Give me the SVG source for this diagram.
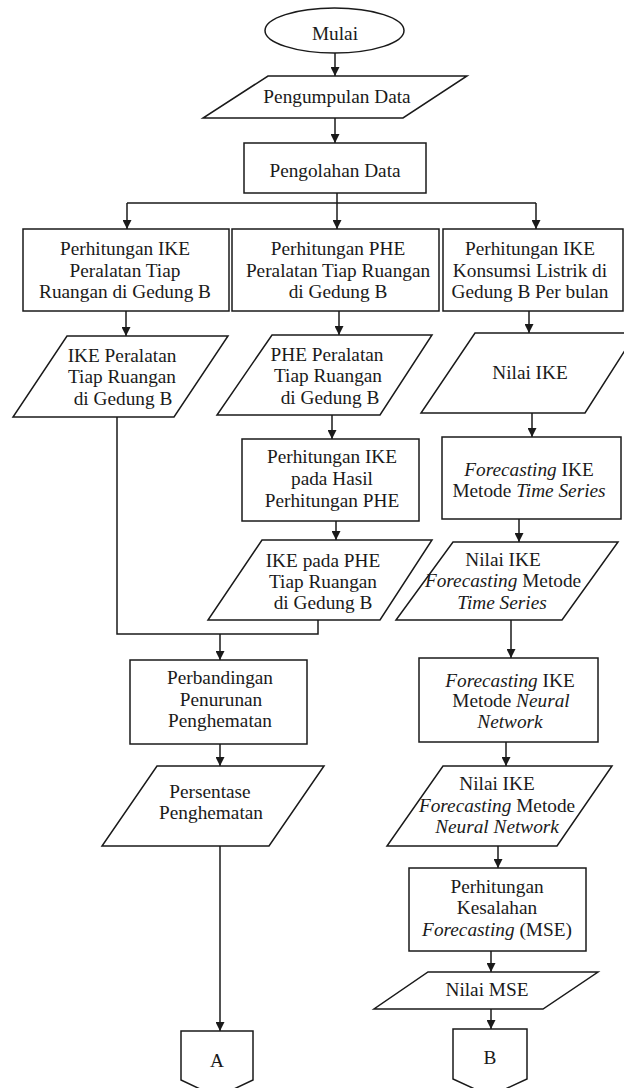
<svg xmlns="http://www.w3.org/2000/svg" width="624" height="1088" viewBox="0 0 624 1088">
<style>
.s{fill:#fff;stroke:#1a1a1a;stroke-width:1.5}
.t{font-family:"Liberation Serif","Times New Roman",serif;font-size:19.3px;fill:#1a1a1a;text-anchor:middle}
.i{font-style:italic}
.c{fill:none;stroke:#1a1a1a;stroke-width:1.5}
</style>
<defs>
<marker id="ah" viewBox="0 0 10 10" refX="10" refY="5" markerWidth="10" markerHeight="9" markerUnits="userSpaceOnUse" orient="auto">
<path d="M0,0 L10,5 L0,10 z" fill="#1a1a1a"/>
</marker>
</defs>
<rect width="624" height="1088" fill="#fff"/>
<g id="connectors">
<path class="c" d="M335,53 V76" marker-end="url(#ah)"/>
<path class="c" d="M335,118 V143" marker-end="url(#ah)"/>
<path class="c" d="M337,193 V203 M127,203 H536"/>
<path class="c" d="M127,203 V229" marker-end="url(#ah)"/>
<path class="c" d="M337,203 V229" marker-end="url(#ah)"/>
<path class="c" d="M536,203 V229" marker-end="url(#ah)"/>
<path class="c" d="M126,311 V336" marker-end="url(#ah)"/>
<path class="c" d="M339,311 V335" marker-end="url(#ah)"/>
<path class="c" d="M529,311 V333" marker-end="url(#ah)"/>
<path class="c" d="M332,415 V439" marker-end="url(#ah)"/>
<path class="c" d="M532,413 V437" marker-end="url(#ah)"/>
<path class="c" d="M336,521 V540" marker-end="url(#ah)"/>
<path class="c" d="M519,519 V542" marker-end="url(#ah)"/>
<path class="c" d="M117,417 V634 H318 V620"/>
<path class="c" d="M220,634 V660" marker-end="url(#ah)"/>
<path class="c" d="M511,620 V658" marker-end="url(#ah)"/>
<path class="c" d="M220,744 V766" marker-end="url(#ah)"/>
<path class="c" d="M506,742 V766" marker-end="url(#ah)"/>
<path class="c" d="M220,846 V1031" marker-end="url(#ah)"/>
<path class="c" d="M498,846 V868" marker-end="url(#ah)"/>
<path class="c" d="M491,951 V972" marker-end="url(#ah)"/>
<path class="c" d="M491,1009 V1029" marker-end="url(#ah)"/>
</g>
<g id="mulai">
<ellipse class="s" cx="334.5" cy="30.5" rx="69.5" ry="22.5"/>
<text class="t" x="335" y="40">Mulai</text>
</g>
<g id="pengumpulan">
<polygon class="s" points="268,76 467,76 403,118 203,118"/>
<text class="t" x="337" y="103">Pengumpulan Data</text>
</g>
<g id="pengolahan">
<rect class="s" x="244" y="143" width="182" height="50"/>
<text class="t" x="335" y="177">Pengolahan Data</text>
</g>
<g id="box1">
<rect class="s" x="23" y="229" width="206" height="82"/>
<text class="t" x="125" y="255">Perhitungan IKE</text>
<text class="t" x="125" y="277">Peralatan Tiap</text>
<text class="t" x="125" y="298">Ruangan di Gedung B</text>
</g>
<g id="box2">
<rect class="s" x="232" y="229" width="207" height="82"/>
<text class="t" x="338" y="255">Perhitungan PHE</text>
<text class="t" x="338" y="277">Peralatan Tiap Ruangan</text>
<text class="t" x="338" y="298">di Gedung B</text>
</g>
<g id="box3">
<rect class="s" x="443" y="229" width="180" height="82"/>
<text class="t" x="530" y="255">Perhitungan IKE</text>
<text class="t" x="530" y="277">Konsumsi Listrik di</text>
<text class="t" x="530" y="298">Gedung B Per bulan</text>
</g>
<g id="para1">
<polygon class="s" points="67,336 228,336 174,417 13,417"/>
<text class="t" x="122" y="362">IKE Peralatan</text>
<text class="t" x="122" y="383">Tiap Ruangan</text>
<text class="t" x="123" y="405">di Gedung B</text>
</g>
<g id="para2">
<polygon class="s" points="272,335 432,335 380,415 217,415"/>
<text class="t" x="327" y="361">PHE Peralatan</text>
<text class="t" x="328" y="382">Tiap Ruangan</text>
<text class="t" x="330" y="404">di Gedung B</text>
</g>
<g id="para3">
<polygon class="s" points="475,333 636,333 585,413 421,413"/>
<text class="t" x="530" y="379">Nilai IKE</text>
</g>
<g id="box4">
<rect class="s" x="242" y="439" width="177" height="82"/>
<text class="t" x="332" y="463">Perhitungan IKE</text>
<text class="t" x="332" y="485">pada Hasil</text>
<text class="t" x="332" y="507">Perhitungan PHE</text>
</g>
<g id="box5">
<rect class="s" x="442" y="437" width="179" height="82"/>
<text class="t" x="529" y="476"><tspan class="i">Forecasting</tspan> IKE</text>
<text class="t" x="529" y="497">Metode <tspan class="i">Time Series</tspan></text>
</g>
<g id="para4">
<polygon class="s" points="262,540 432,540 380,620 208,620"/>
<text class="t" x="323" y="567">IKE pada PHE</text>
<text class="t" x="323" y="588">Tiap Ruangan</text>
<text class="t" x="323" y="609">di Gedung B</text>
</g>
<g id="para5">
<polygon class="s" points="453,542 618,542 562,620 396,620"/>
<text class="t" x="503" y="566">Nilai IKE</text>
<text class="t" x="503" y="587"><tspan class="i">Forecasting</tspan> Metode</text>
<text class="t" x="502" y="609" font-style="italic">Time Series</text>
</g>
<g id="perbandingan">
<rect class="s" x="130" y="660" width="177" height="84"/>
<text class="t" x="220" y="684">Perbandingan</text>
<text class="t" x="221" y="706">Penurunan</text>
<text class="t" x="220" y="727">Penghematan</text>
</g>
<g id="box6">
<rect class="s" x="419" y="658" width="179" height="84"/>
<text class="t" x="510" y="687"><tspan class="i">Forecasting</tspan> IKE</text>
<text class="t" x="511" y="707">Metode <tspan class="i">Neural</tspan></text>
<text class="t" x="510" y="728" font-style="italic">Network</text>
</g>
<g id="persentase">
<polygon class="s" points="157,766 324,766 269,846 102,846"/>
<text class="t" x="210" y="798">Persentase</text>
<text class="t" x="211" y="819">Penghematan</text>
</g>
<g id="para6">
<polygon class="s" points="443,766 612,766 557,846 387,846"/>
<text class="t" x="497" y="790">Nilai IKE</text>
<text class="t" x="497" y="812"><tspan class="i">Forecasting</tspan> Metode</text>
<text class="t" x="497" y="833" font-style="italic">Neural Network</text>
</g>
<g id="box7">
<rect class="s" x="409" y="868" width="177" height="83"/>
<text class="t" x="497" y="893">Perhitungan</text>
<text class="t" x="497" y="914">Kesalahan</text>
<text class="t" x="497" y="936"><tspan class="i">Forecasting</tspan> (MSE)</text>
</g>
<g id="para7">
<polygon class="s" points="428,972 598,972 543,1009 374,1009"/>
<text class="t" x="487" y="996">Nilai MSE</text>
</g>
<g id="connA">
<polygon class="s" points="181,1031 253,1031 253,1080 217,1097 181,1080"/>
<text class="t" x="217" y="1067">A</text>
</g>
<g id="connB">
<polygon class="s" points="453,1029 527,1029 527,1079 490,1096 453,1079"/>
<text class="t" x="490" y="1064">B</text>
</g>
</svg>
